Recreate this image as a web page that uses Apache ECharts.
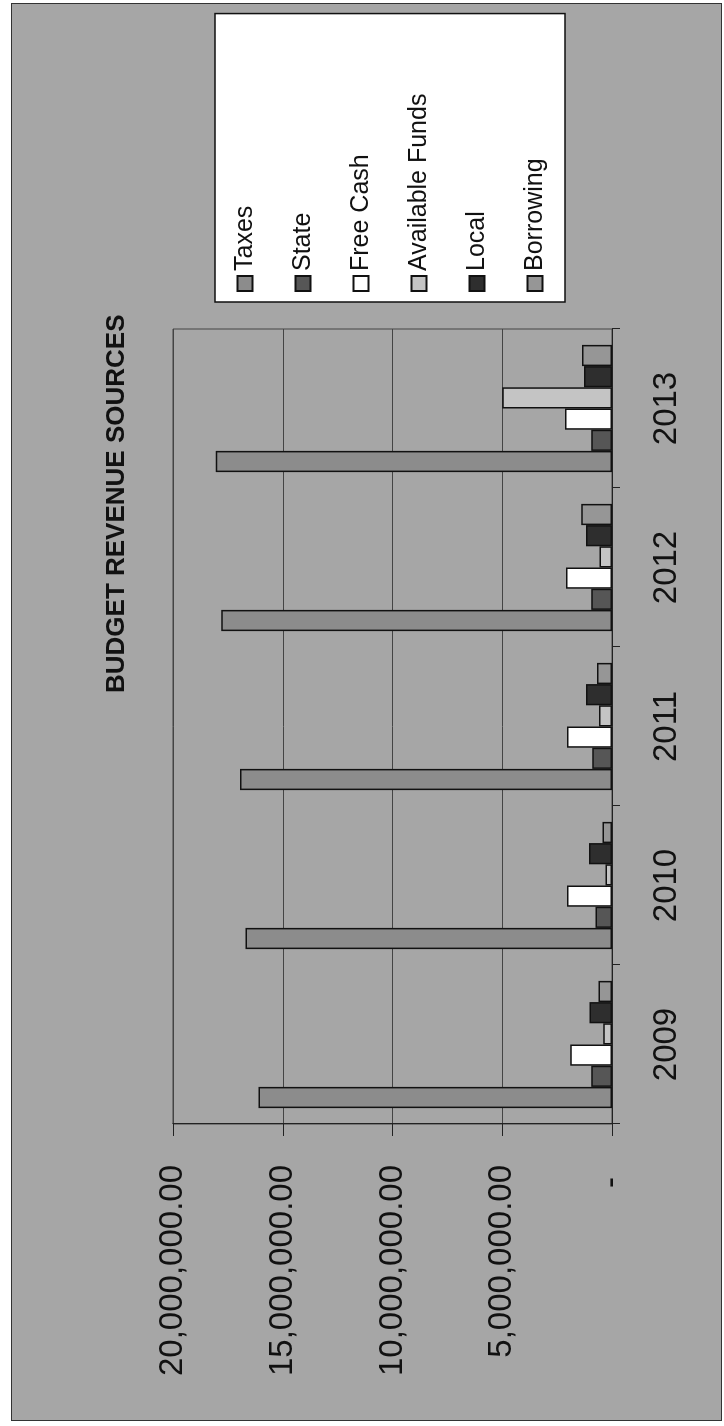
<!DOCTYPE html>
<html><head><meta charset="utf-8">
<script src="https://cdn.jsdelivr.net/npm/echarts@6/dist/echarts.min.js"></script>
<style>
html,body{margin:0;padding:0;background:#fff;width:724px;height:1426px;overflow:hidden;}
#rot{position:absolute;left:0;top:0;width:1426px;height:724px;transform-origin:0 0;transform:translateY(1426px) rotate(-90deg);}
#frame{position:absolute;left:5px;top:11px;width:1418px;height:711px;background:#a6a6a6;border:1px solid #333;box-sizing:border-box;}
#chart{position:absolute;left:0;top:0;width:1426px;height:724px;}
</style></head><body>
<div id="rot"><div id="frame"></div><div id="chart"></div></div>
<script>
const categories = ['2009', '2010', '2011', '2012', '2013'];
const seriesNames = ['Taxes', 'State', 'Free Cash', 'Available Funds', 'Local', 'Borrowing'];
const taxes = [16100000, 16700000, 16950000, 17800000, 18050000];
const state = [950000, 750000, 900000, 950000, 950000];
const freeCash = [1900000, 2050000, 2050000, 2090000, 2140000];
const availableFunds = [400000, 300000, 590000, 570000, 5000000];
const local = [1020000, 1050000, 1180000, 1180000, 1270000];
const borrowing = [620000, 430000, 680000, 1400000, 1370000];
const valueMin = 0, valueMax = 20000000, valueStep = 5000000;
const titleText = 'BUDGET REVENUE SOURCES';

const seriesData = [taxes, state, freeCash, availableFunds, local, borrowing];
const colors = ['#8c8c8c', '#565656', '#ffffff', '#c4c4c4', '#2e2e2e', '#969696'];
const FONT = '"Liberation Sans", Arial, sans-serif';

function fmt(v) {
  if (v === 0) return '{d|-}';
  return '{n|' + v.toLocaleString('en-US', {minimumFractionDigits: 2, maximumFractionDigits: 2}) + '}';
}

const chart = echarts.init(document.getElementById('chart'), null, {renderer: 'canvas'});
chart.setOption({
  backgroundColor: 'transparent',
  animation: false,
  textStyle: {fontFamily: FONT},
  title: {
    text: titleText, left: 728, top: 99,
    textStyle: {fontSize: 26, fontWeight: 'bold', color: '#111', fontFamily: FONT}
  },
  legend: {
    data: seriesNames, orient: 'vertical', left: 1124, top: 215,
    icon: 'rect',
    padding: [16, 80, 16, 10], itemWidth: 15, itemHeight: 15, itemGap: 30,
    backgroundColor: '#ffffff', borderColor: '#111', borderWidth: 1.5,
    textStyle: {fontSize: 25, lineHeight: 28, color: '#111', fontFamily: FONT}
  },
  grid: {
    left: 302, right: 329, top: 173, bottom: 112,
    show: true, borderColor: '#444', borderWidth: 1, backgroundColor: 'transparent'
  },
  xAxis: {
    type: 'category', data: categories, boundaryGap: true,
    axisLine: {show: true, lineStyle: {color: '#222', width: 1}},
    axisTick: {show: true, length: 8, lineStyle: {color: '#222'}},
    axisLabel: {fontSize: 33, color: '#111', margin: 38, fontFamily: FONT}
  },
  yAxis: {
    type: 'value', min: valueMin, max: valueMax, interval: valueStep,
    axisLine: {show: true, lineStyle: {color: '#222', width: 1}},
    axisTick: {show: true, length: 12, lineStyle: {color: '#222'}},
    splitLine: {show: true, lineStyle: {color: '#444', width: 1}},
    axisLabel: {
      margin: 41, formatter: fmt, color: '#111', fontFamily: FONT,
      rich: {
        n: {fontSize: 33, color: '#111', fontFamily: FONT},
        d: {fontSize: 33, color: '#111', fontFamily: FONT, padding: [0, 12, 0, 0]}
      }
    }
  },
  series: seriesNames.map((name, i) => ({
    name, type: 'bar', data: seriesData[i],
    barGap: '0%', barCategoryGap: '20%',
    itemStyle: {color: colors[i], borderColor: '#111', borderWidth: 1.5}
  }))
});
</script>
</body></html>
